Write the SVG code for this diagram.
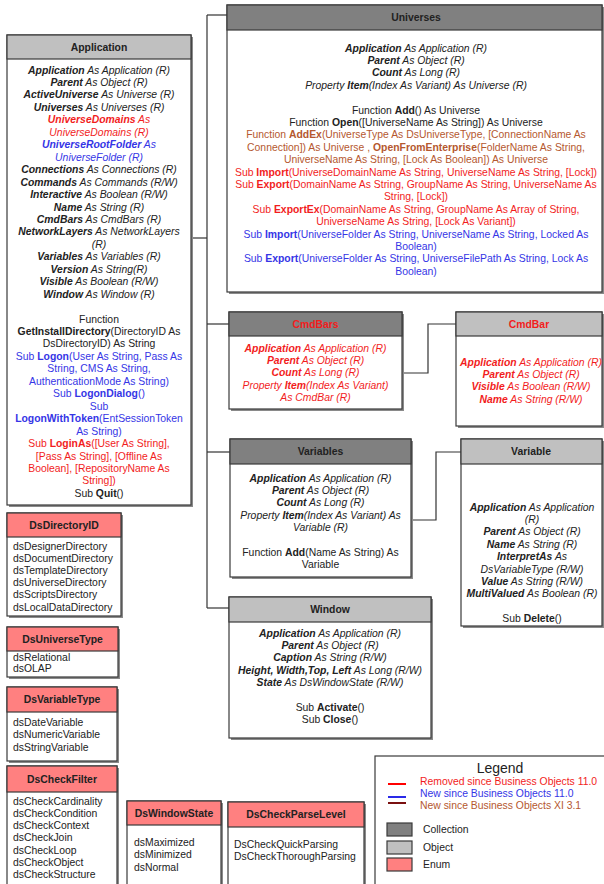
<svg xmlns="http://www.w3.org/2000/svg" width="604" height="884" viewBox="0 0 604 884">
<style>
text{font-family:"Liberation Sans",Arial,sans-serif;font-size:10.4px;fill:#222;text-anchor:middle}
.i{font-style:italic}
.b{font-weight:bold}
.r,.r tspan{fill:#f21d1d}
.bl,.bl tspan{fill:#3535e6}
.br,.br tspan{fill:#b5582f}
.e{text-anchor:start}
.box{fill:#fff;stroke:#3a3a3a;stroke-width:1.2}
.sh{fill:#8a8a8a}
.hc{fill:#808080;stroke:#3a3a3a;stroke-width:1.2}
.ho{fill:#c0c0c0;stroke:#3a3a3a;stroke-width:1.2}
.he{fill:#ff8080;stroke:#3a3a3a;stroke-width:1.2}
.conn{fill:none;stroke:#333;stroke-width:1.2}
.lg{font-size:14px}
</style>

<g id="connectors" class="conn">
<path d="M191 238 H207"/>
<path d="M207 15 V608"/>
<path d="M207 15 H227"/>
<path d="M207 324 H229"/>
<path d="M207 452 H230"/>
<path d="M207 608 H229"/>
<path d="M402 373 H428 V324 H456"/>
<path d="M411 520 H436 V452 H461"/>
</g>

<g id="application">
<rect class="sh" x="9" y="37" width="184" height="470"/>
<rect class="box" x="7" y="35" width="184" height="470"/>
<rect class="ho" x="7" y="35" width="184" height="24"/>
<text class="b" x="99" y="51">Application</text>
<text class="i" x="99" y="73.5"><tspan class="b">Application</tspan> As Application (R)</text>
<text class="i" x="99" y="86"><tspan class="b">Parent</tspan> As Object (R)</text>
<text class="i" x="99" y="98.4"><tspan class="b">ActiveUniverse</tspan> As Universe (R)</text>
<text class="i" x="99" y="110.9"><tspan class="b">Universes</tspan> As Universes (R)</text>
<text class="i r" x="99" y="123.3"><tspan class="b">UniverseDomains</tspan> As</text>
<text class="i r" x="99" y="135.8">UniverseDomains (R)</text>
<text class="i bl" x="99" y="148.2"><tspan class="b">UniverseRootFolder</tspan> As</text>
<text class="i bl" x="99" y="160.7">UniverseFolder (R)</text>
<text class="i" x="99" y="173.1"><tspan class="b">Connections</tspan> As Connections (R)</text>
<text class="i" x="99" y="185.6"><tspan class="b">Commands</tspan> As Commands (R/W)</text>
<text class="i" x="99" y="198"><tspan class="b">Interactive</tspan> As Boolean (R/W)</text>
<text class="i" x="99" y="210.5"><tspan class="b">Name</tspan> As String (R)</text>
<text class="i" x="99" y="222.9"><tspan class="b">CmdBars</tspan> As CmdBars (R)</text>
<text class="i" x="99" y="235.4"><tspan class="b">NetworkLayers</tspan> As NetworkLayers</text>
<text class="i" x="99" y="247.8">(R)</text>
<text class="i" x="99" y="260.3"><tspan class="b">Variables</tspan> As Variables (R)</text>
<text class="i" x="99" y="272.7"><tspan class="b">Version</tspan> As String(R)</text>
<text class="i" x="99" y="285.2"><tspan class="b">Visible</tspan> As Boolean (R/W)</text>
<text class="i" x="99" y="297.6"><tspan class="b">Window</tspan> As Window (R)</text>
<text x="99" y="322.5">Function</text>
<text x="99" y="335"><tspan class="b">GetInstallDirectory</tspan>(DirectoryID As</text>
<text x="99" y="347.4">DsDirectoryID) As String</text>
<text class="bl" x="99" y="359.9">Sub <tspan class="b">Logon</tspan>(User As String, Pass As</text>
<text class="bl" x="99" y="372.3">String, CMS As String,</text>
<text class="bl" x="99" y="384.8">AuthenticationMode As String)</text>
<text class="bl" x="99" y="397.2">Sub <tspan class="b">LogonDialog</tspan>()</text>
<text class="bl" x="99" y="409.7">Sub</text>
<text class="bl" x="99" y="422.1"><tspan class="b">LogonWithToken</tspan>(EntSessionToken</text>
<text class="bl" x="99" y="434.6">As String)</text>
<text class="r" x="99" y="447">Sub <tspan class="b">LoginAs</tspan>([User As String],</text>
<text class="r" x="99" y="459.5">[Pass As String], [Offline As</text>
<text class="r" x="99" y="471.9">Boolean], [RepositoryName As</text>
<text class="r" x="99" y="484.4">String])</text>
<text x="99" y="496.8">Sub <tspan class="b">Quit</tspan>()</text>
</g>

<g id="universes">
<rect class="sh" x="229" y="7" width="375" height="287"/>
<rect class="box" x="227" y="5" width="375" height="287"/>
<rect class="hc" x="227" y="5" width="375" height="25"/>
<text class="b" x="416" y="21">Universes</text>
<text class="i" x="416" y="51.5"><tspan class="b">Application</tspan> As Application (R)</text>
<text class="i" x="416" y="63.9"><tspan class="b">Parent</tspan> As Object (R)</text>
<text class="i" x="416" y="76.3"><tspan class="b">Count</tspan> As Long (R)</text>
<text class="i" x="416" y="88.7">Property <tspan class="b">Item</tspan>(Index As Variant) As Universe (R)</text>
<text x="416" y="113.5">Function <tspan class="b">Add</tspan>() As Universe</text>
<text x="416" y="125.9">Function <tspan class="b">Open</tspan>([UniverseName As String]) As Universe</text>
<text class="br" x="416" y="138.3">Function <tspan class="b">AddEx</tspan>(UniverseType As DsUniverseType, [ConnectionName As</text>
<text class="br" x="416" y="150.7">Connection]) As Universe , <tspan class="b">OpenFromEnterprise</tspan>(FolderName As String,</text>
<text class="br" x="416" y="163.1">UniverseName As String, [Lock As Boolean]) As Universe</text>
<text class="r" x="416" y="175.5">Sub <tspan class="b">Import</tspan>(UniverseDomainName As String, UniverseName As String, [Lock])</text>
<text class="r" x="416" y="187.9">Sub <tspan class="b">Export</tspan>(DomainName As String, GroupName As String, UniverseName As</text>
<text class="r" x="416" y="200.3">String, [Lock])</text>
<text class="r" x="416" y="212.7">Sub <tspan class="b">ExportEx</tspan>(DomainName As String, GroupName As Array of String,</text>
<text class="r" x="416" y="225.1">UniverseName As String, [Lock As Variant])</text>
<text class="bl" x="416" y="237.5">Sub <tspan class="b">Import</tspan>(UniverseFolder As String, UniverseName As String, Locked As</text>
<text class="bl" x="416" y="249.9">Boolean)</text>
<text class="bl" x="416" y="262.3">Sub <tspan class="b">Export</tspan>(UniverseFolder As String, UniverseFilePath As String, Lock As</text>
<text class="bl" x="416" y="274.7">Boolean)</text>
</g>

<g id="cmdbars">
<rect class="sh" x="231" y="314" width="173" height="97"/>
<rect class="box" x="229" y="312" width="173" height="97"/>
<rect class="hc" x="229" y="312" width="173" height="24"/>
<text class="b r" x="315.5" y="327.5">CmdBars</text>
<text class="i r" x="315.5" y="351.5"><tspan class="b">Application</tspan> As Application (R)</text>
<text class="i r" x="315.5" y="363.9"><tspan class="b">Parent</tspan> As Object (R)</text>
<text class="i r" x="315.5" y="376.3"><tspan class="b">Count</tspan> As Long (R)</text>
<text class="i r" x="315.5" y="388.7">Property <tspan class="b">Item</tspan>(Index As Variant)</text>
<text class="i r" x="315.5" y="401.1">As CmdBar (R)</text>
</g>

<g id="cmdbar">
<rect class="sh" x="458" y="314" width="146" height="114"/>
<rect class="box" x="456" y="312" width="146" height="114"/>
<rect class="ho" x="456" y="312" width="146" height="24"/>
<text class="b r" x="529" y="327.5">CmdBar</text>
<text class="i r" x="531" y="365.5"><tspan class="b">Application</tspan> As Application (R)</text>
<text class="i r" x="531" y="377.9"><tspan class="b">Parent</tspan> As Object (R)</text>
<text class="i r" x="531" y="390.3"><tspan class="b">Visible</tspan> As Boolean (R/W)</text>
<text class="i r" x="531" y="402.7"><tspan class="b">Name</tspan> As String (R/W)</text>
</g>

<g id="variables">
<rect class="sh" x="232" y="441" width="181" height="138"/>
<rect class="box" x="230" y="439" width="181" height="138"/>
<rect class="hc" x="230" y="439" width="181" height="25"/>
<text class="b" x="320.5" y="455">Variables</text>
<text class="i" x="320.5" y="481.5"><tspan class="b">Application</tspan> As Application (R)</text>
<text class="i" x="320.5" y="493.9"><tspan class="b">Parent</tspan> As Object (R)</text>
<text class="i" x="320.5" y="506.3"><tspan class="b">Count</tspan> As Long (R)</text>
<text class="i" x="320.5" y="518.7">Property <tspan class="b">Item</tspan>(Index As Variant) As</text>
<text class="i" x="320.5" y="531.1">Variable (R)</text>
<text x="320.5" y="555.9">Function <tspan class="b">Add</tspan>(Name As String) As</text>
<text x="320.5" y="568.3">Variable</text>
</g>

<g id="variable">
<rect class="sh" x="463" y="441" width="141" height="187"/>
<rect class="box" x="461" y="439" width="141" height="187"/>
<rect class="ho" x="461" y="439" width="141" height="25"/>
<text class="b" x="531" y="455">Variable</text>
<text class="i" x="532" y="510.5"><tspan class="b">Application</tspan> As Application</text>
<text class="i" x="532" y="522.9">(R)</text>
<text class="i" x="532" y="535.3"><tspan class="b">Parent</tspan> As Object (R)</text>
<text class="i" x="532" y="547.7"><tspan class="b">Name</tspan> As String (R)</text>
<text class="i" x="532" y="560.1"><tspan class="b">InterpretAs</tspan> As</text>
<text class="i" x="532" y="572.5">DsVariableType (R/W)</text>
<text class="i" x="532" y="584.9"><tspan class="b">Value</tspan> As String (R/W)</text>
<text class="i" x="532" y="597.3"><tspan class="b">MultiValued</tspan> As Boolean (R)</text>
<text x="532" y="622.1">Sub <tspan class="b">Delete</tspan>()</text>
</g>

<g id="window">
<rect class="sh" x="231" y="599" width="202" height="141"/>
<rect class="box" x="229" y="597" width="202" height="141"/>
<rect class="ho" x="229" y="597" width="202" height="25"/>
<text class="b" x="330" y="613">Window</text>
<text class="i" x="330" y="636.5"><tspan class="b">Application</tspan> As Application (R)</text>
<text class="i" x="330" y="648.9"><tspan class="b">Parent</tspan> As Object (R)</text>
<text class="i" x="330" y="661.3"><tspan class="b">Caption</tspan> As String (R/W)</text>
<text class="i" x="330" y="673.7"><tspan class="b">Height, Width,Top, Left</tspan> As Long (R/W)</text>
<text class="i" x="330" y="686.1"><tspan class="b">State</tspan> As DsWindowState (R/W)</text>
<text x="330" y="710.9">Sub <tspan class="b">Activate</tspan>()</text>
<text x="330" y="723.3">Sub <tspan class="b">Close</tspan>()</text>
</g>

<g id="dsdirectoryid">
<rect class="sh" x="9" y="515" width="114" height="103"/>
<rect class="box" x="7" y="513" width="114" height="103"/>
<rect class="he" x="7" y="513" width="114" height="24"/>
<text class="b" x="64" y="528.5">DsDirectoryID</text>
<text class="e" x="13" y="549.5">dsDesignerDirectory</text>
<text class="e" x="13" y="561.7">dsDocumentDirectory</text>
<text class="e" x="13" y="573.9">dsTemplateDirectory</text>
<text class="e" x="13" y="586.1">dsUniverseDirectory</text>
<text class="e" x="13" y="598.3">dsScriptsDirectory</text>
<text class="e" x="13" y="610.5">dsLocalDataDirectory</text>
</g>

<g id="dsuniversetype">
<rect class="sh" x="9" y="629" width="111" height="50"/>
<rect class="box" x="7" y="627" width="111" height="50"/>
<rect class="he" x="7" y="627" width="111" height="24"/>
<text class="b" x="62.5" y="642.5">DsUniverseType</text>
<text class="e" x="13" y="660.5">dsRelational</text>
<text class="e" x="13" y="672">dsOLAP</text>
</g>

<g id="dsvariabletype">
<rect class="sh" x="9" y="689" width="110" height="74"/>
<rect class="box" x="7" y="687" width="110" height="74"/>
<rect class="he" x="7" y="687" width="110" height="25"/>
<text class="b" x="62" y="703">DsVariableType</text>
<text class="e" x="13" y="725.5">dsDateVariable</text>
<text class="e" x="13" y="738">dsNumericVariable</text>
<text class="e" x="13" y="750.5">dsStringVariable</text>
</g>

<g id="dscheckfilter">
<rect class="sh" x="9" y="768" width="110" height="130"/>
<rect class="box" x="7" y="766" width="110" height="130"/>
<rect class="he" x="7" y="766" width="110" height="26"/>
<text class="b" x="62" y="782.5">DsCheckFilter</text>
<text class="e" x="13" y="804.5">dsCheckCardinality</text>
<text class="e" x="13" y="816.8">dsCheckCondition</text>
<text class="e" x="13" y="829.1">dsCheckContext</text>
<text class="e" x="13" y="841.4">dsCheckJoin</text>
<text class="e" x="13" y="853.7">dsCheckLoop</text>
<text class="e" x="13" y="866">dsCheckObject</text>
<text class="e" x="13" y="878.3">dsCheckStructure</text>
</g>

<g id="dswindowstate">
<rect class="sh" x="129" y="803" width="94" height="100"/>
<rect class="box" x="127" y="801" width="94" height="100"/>
<rect class="he" x="127" y="801" width="94" height="24"/>
<text class="b" x="174" y="816.5">DsWindowState</text>
<text class="e" x="134" y="845.5">dsMaximized</text>
<text class="e" x="134" y="858">dsMinimized</text>
<text class="e" x="134" y="870.5">dsNormal</text>
</g>

<g id="dscheckparselevel">
<rect class="sh" x="230" y="804" width="136" height="100"/>
<rect class="box" x="228" y="802" width="136" height="100"/>
<rect class="he" x="228" y="802" width="136" height="25"/>
<text class="b" x="296" y="818">DsCheckParseLevel</text>
<text class="e" x="234" y="847.5">DsCheckQuickParsing</text>
<text class="e" x="234" y="860">DsCheckThoroughParsing</text>
</g>

<g id="legend">
<rect class="box" x="375" y="756" width="240" height="140"/>
<text class="lg" x="500" y="773">Legend</text>
<path d="M388 784 H406" stroke="#ff0000" stroke-width="2"/>
<path d="M388 797 H406" stroke="#2a2ae8" stroke-width="2"/>
<path d="M388 803 H406" stroke="#7a1010" stroke-width="2"/>
<text class="e r" x="420" y="784.5">Removed  since Business Objects 11.0</text>
<text class="e bl" x="420" y="796.5">New since Business Objects 11.0</text>
<text class="e br" x="420" y="808.5">New since Business Objects XI 3.1</text>
<rect class="hc" x="387" y="823" width="25" height="13"/>
<rect class="ho" x="387" y="841" width="25" height="13"/>
<rect class="he" x="387" y="858" width="25" height="13"/>
<text class="e" x="423" y="833">Collection</text>
<text class="e" x="423" y="851">Object</text>
<text class="e" x="423" y="868">Enum</text>
</g>
</svg>
